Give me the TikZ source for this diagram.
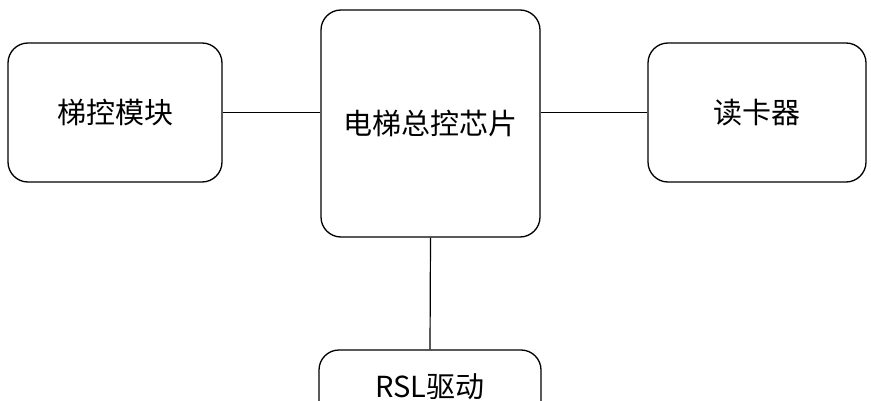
\documentclass[tikz,border=0pt]{standalone}
\usepackage{fontspec}
\newfontfamily\cjk{Noto Sans CJK SC}
\begin{document}
\begin{tikzpicture}[x=1pt,y=1pt,
  box/.style={draw=black,line width=1.3pt,rounded corners=20pt,font=\cjk\fontsize{29}{32}\selectfont,inner sep=0pt},
  link/.style={draw=black,line width=1.2pt}]
\useasboundingbox (0,0) rectangle (871,400);
\fill[white] (0,0) rectangle (871,400);
\node[box,minimum width=214pt,minimum height=139pt] (L) at (115,287.5) {梯控模块};
\node[box,minimum width=219pt,minimum height=227pt] (C) at (430.5,276.5) {电梯总控芯片};
\node[box,minimum width=218pt,minimum height=139pt] (R) at (757,287.5) {读卡器};
\node[box,minimum width=222pt,minimum height=74pt] (B) at (430,13) {RSL驱动};
\draw[link] (L.east) -- (L.east -| C.west);
\draw[link] (R.west) -- (R.west -| C.east);
\draw[link] (C.south) -- (B.north);
\end{tikzpicture}
\end{document}
